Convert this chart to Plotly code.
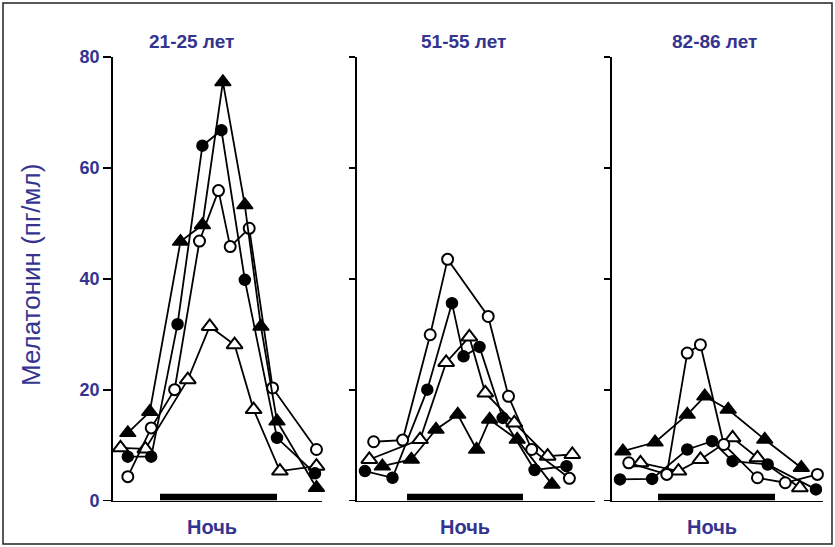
import plotly.graph_objects as go

# ---------------- data (x = clock time in hours, 24 = midnight) ----------------
panel_titles = ["21-25 лет", "51-55 лет", "82-86 лет"]
night_label = "Ночь"
y_title = "Мелатонин (пг/мл)"
y_ticks = [0, 20, 40, 60, 80]
night_start, night_end = 21, 29

# Panel 1: 21-25 years
p1_ftri_x = [18.8, 20.3, 22.4, 23.9, 25.3, 26.8, 27.9, 29.0, 31.7]
p1_ftri_y = [12.2, 16.0, 46.7, 49.7, 75.5, 53.3, 31.4, 14.3, 2.3]
p1_fcir_x = [18.8, 20.4, 22.2, 23.9, 25.2, 26.8, 29.0, 31.6]
p1_fcir_y = [7.9, 7.9, 31.8, 64.0, 66.8, 39.8, 11.3, 4.9]
p1_ocir_x = [18.8, 20.4, 22.0, 23.7, 25.0, 25.8, 27.1, 28.7, 31.7]
p1_ocir_y = [4.3, 13.1, 20.0, 46.8, 55.9, 45.8, 49.1, 20.3, 9.2]
p1_otri_x = [18.3, 20.0, 22.9, 24.4, 26.1, 27.4, 29.2, 31.7]
p1_otri_y = [9.5, 9.3, 21.8, 31.4, 28.1, 16.4, 5.3, 6.2]

# Panel 2: 51-55 years
p2_ocir_x = [18.7, 20.7, 22.6, 23.8, 26.6, 28.0, 29.6, 32.2]
p2_ocir_y = [10.6, 10.9, 29.9, 43.5, 33.2, 18.8, 9.2, 4.0]
p2_fcir_x = [18.1, 20.0, 22.4, 24.1, 24.9, 26.0, 27.6, 29.8, 32.0]
p2_fcir_y = [5.3, 4.1, 20.0, 35.6, 26.0, 27.7, 14.9, 5.5, 6.2]
p2_otri_x = [18.4, 21.9, 23.7, 25.3, 26.4, 28.4, 30.7, 32.4]
p2_otri_y = [7.4, 11.0, 24.9, 29.5, 19.4, 14.0, 8.0, 8.3]
p2_ftri_x = [19.3, 21.3, 23.0, 24.5, 25.8, 26.7, 28.6, 31.0]
p2_ftri_y = [6.2, 7.4, 12.8, 15.5, 9.2, 14.6, 11.0, 2.9]

# Panel 3: 82-86 years
p3_ftri_x = [18.6, 20.8, 23.0, 24.2, 25.8, 28.3, 30.8]
p3_ftri_y = [8.9, 10.5, 15.5, 18.8, 16.4, 11.0, 5.9]
p3_ocir_x = [19.0, 21.6, 23.0, 23.9, 25.5, 27.8, 29.7, 31.9]
p3_ocir_y = [6.8, 4.7, 26.6, 28.1, 10.1, 4.1, 3.2, 4.7]
p3_fcir_x = [18.4, 20.6, 23.0, 24.7, 26.1, 28.5, 31.8]
p3_fcir_y = [3.8, 3.9, 9.2, 10.7, 7.1, 6.5, 2.0]
p3_otri_x = [19.8, 22.4, 23.9, 26.1, 27.8, 30.7]
p3_otri_y = [6.8, 5.3, 7.4, 11.3, 7.7, 2.3]

# ---------------- styling ----------------
W, H = 835, 547
BLUE = "#34348f"
FONT = "Liberation Sans, Arial, sans-serif"

styles = {
    "fcir": dict(symbol="circle", size=11, color="black", line=dict(color="black", width=1.5)),
    "ocir": dict(symbol="circle", size=11, color="white", line=dict(color="black", width=2)),
    "ftri": dict(symbol="triangle-up", size=14, color="black", line=dict(color="black", width=1.5)),
    "otri": dict(symbol="triangle-up", size=14, color="white", line=dict(color="black", width=2)),
}

panels = [
    [("otri", p1_otri_x, p1_otri_y), ("ocir", p1_ocir_x, p1_ocir_y),
     ("fcir", p1_fcir_x, p1_fcir_y), ("ftri", p1_ftri_x, p1_ftri_y)],
    [("ftri", p2_ftri_x, p2_ftri_y), ("otri", p2_otri_x, p2_otri_y),
     ("fcir", p2_fcir_x, p2_fcir_y), ("ocir", p2_ocir_x, p2_ocir_y)],
    [("otri", p3_otri_x, p3_otri_y), ("fcir", p3_fcir_x, p3_fcir_y),
     ("ocir", p3_ocir_x, p3_ocir_y), ("ftri", p3_ftri_x, p3_ftri_y)],
]

# panel pixel geometry -> domains / ranges
x_pix = [(113, 322, 160, 277), (357, 595, 407, 523), (612, 823, 658, 775)]
y0_pix, y80_pix = 500.5, 57

fig = go.Figure()
layout = {}
for i, series in enumerate(panels):
    ax = "" if i == 0 else str(i + 1)
    xa, ya = "x" + ax, "y" + ax
    left, right, bs, be = x_pix[i]
    pph = (be - bs) / (night_end - night_start)
    xr = [night_start - (bs - left) / pph, night_end + (right - be) / pph]
    for key, xs, ys in series:
        fig.add_trace(go.Scatter(
            x=xs, y=ys, mode="lines+markers", xaxis=xa, yaxis=ya,
            line=dict(color="black", width=1.8), marker=styles[key],
            cliponaxis=False, showlegend=False, hoverinfo="skip"))
    layout["xaxis" + ax] = dict(
        domain=[left / W, right / W], range=xr, anchor=ya, automargin=False,
        showline=True, linecolor="black", linewidth=1.8, showgrid=False,
        zeroline=False, showticklabels=False, ticks="")
    layout["yaxis" + ax] = dict(
        domain=[(H - y0_pix) / H, (H - y80_pix) / H], range=[0, 80], anchor=xa,
        automargin=False,
        showline=True, linecolor="black", linewidth=1.8, showgrid=False,
        zeroline=False, ticks="outside", ticklen=8 if i == 0 else 6,
        tickwidth=1.8, tickcolor="black", tickvals=y_ticks,
        showticklabels=(i == 0),
        tickfont=dict(family=FONT, size=18, color=BLUE, weight="bold"))
    # night bar
    fig.add_shape(type="rect", xref=xa, yref=ya, x0=night_start, x1=night_end,
                  y0=0, y1=1.2, fillcolor="black", line=dict(width=0), layer="above")

fig.update_layout(**layout)

title_x = [191, 463, 714]
night_x = [212, 465, 712]
annotations = []
for i in range(3):
    annotations.append(dict(text=panel_titles[i], x=title_x[i] / W, y=(H - 41) / H,
                            xref="paper", yref="paper", showarrow=False,
                            font=dict(family=FONT, size=19, color=BLUE, weight="bold"),
                            xanchor="center", yanchor="middle"))
    annotations.append(dict(text=night_label, x=night_x[i] / W, y=(H - 527) / H,
                            xref="paper", yref="paper", showarrow=False,
                            font=dict(family=FONT, size=20, color=BLUE, weight="bold"),
                            xanchor="center", yanchor="middle"))
annotations.append(dict(text=y_title, x=31 / W, y=(H - 275) / H, xref="paper", yref="paper",
                        showarrow=False, textangle=-90,
                        font=dict(family=FONT, size=26, color=BLUE),
                        xanchor="center", yanchor="middle"))

fig.add_shape(type="rect", xref="paper", yref="paper",
              x0=3 / W, x1=(W - 3) / W, y0=3 / H, y1=(H - 3) / H,
              line=dict(color="#222222", width=1.5), fillcolor="rgba(0,0,0,0)")

fig.update_layout(
    width=W, height=H, margin=dict(l=0, r=0, t=0, b=0, pad=0, autoexpand=False),
    paper_bgcolor="white", plot_bgcolor="white", hovermode=False,
    annotations=annotations, showlegend=False)

post = (
    "document.documentElement.style.margin='0';"
    "document.body.style.margin='0';"
    "document.documentElement.style.overflow='hidden';"
    "document.body.style.overflow='hidden';"
    "var gd=document.getElementById('{plot_id}');"
    "gd.style.position='fixed';gd.style.left='0px';gd.style.top='0px';"
)
fig.write_html("out.html", config={"displayModeBar": False, "staticPlot": True},
               post_script=post)
